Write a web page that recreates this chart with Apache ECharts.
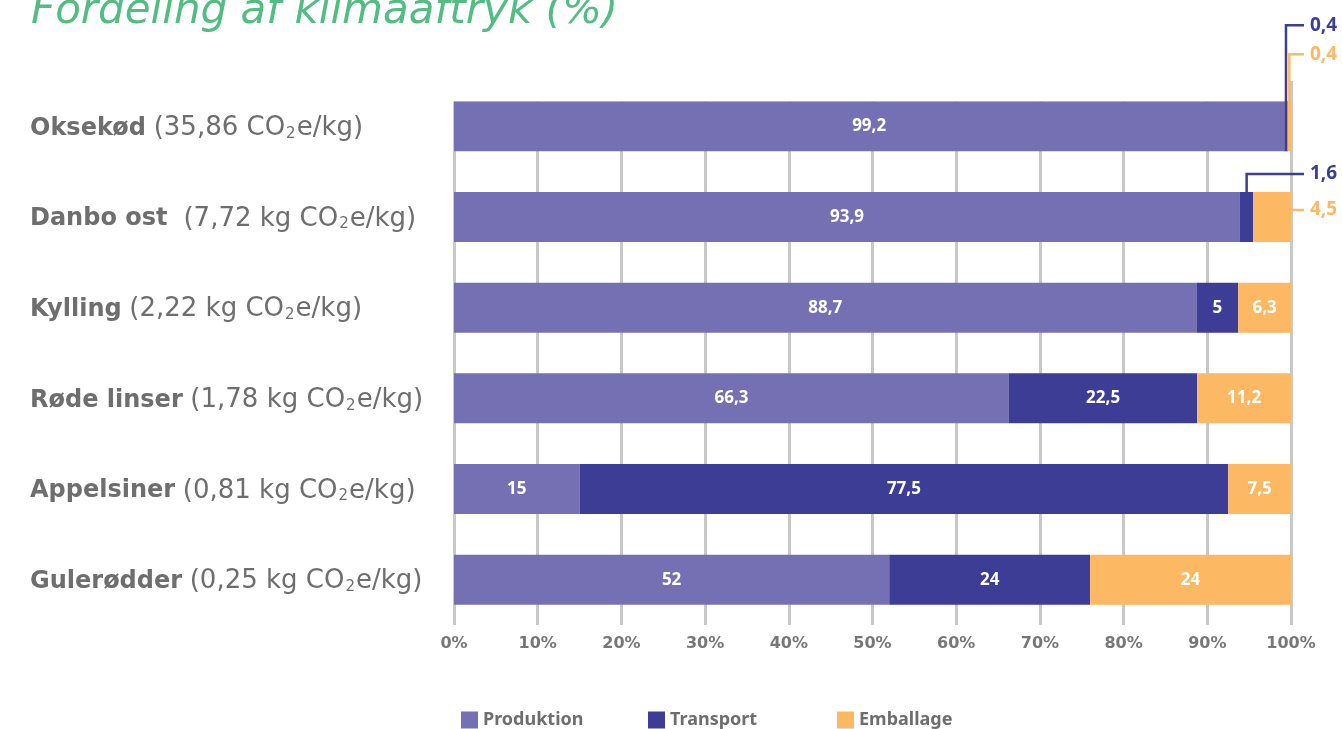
<!DOCTYPE html>
<html><head><meta charset="utf-8">
<script src="https://cdn.jsdelivr.net/npm/echarts@6/dist/echarts.min.js"></script>
<style>html,body{margin:0;padding:0;background:#fff}#c{width:1342px;height:729px}</style>
</head><body><div id="c"></div>
<script>
const categoryNames = ['Oksekød', 'Danbo ost ', 'Kylling', 'Røde linser', 'Appelsiner', 'Gulerødder'];
const categoryFootprints = ['(35,86 CO₂e/kg)', '(7,72 kg CO₂e/kg)', '(2,22 kg CO₂e/kg)', '(1,78 kg CO₂e/kg)', '(0,81 kg CO₂e/kg)', '(0,25 kg CO₂e/kg)'];
const seriesNames = ['Produktion', 'Transport', 'Emballage'];
const produktion = [99.2, 93.9, 88.7, 66.3, 15, 52];
const transport = [0.4, 1.6, 5, 22.5, 77.5, 24];
const emballage = [0.4, 4.5, 6.3, 11.2, 7.5, 24];
const xTickValues = [0, 10, 20, 30, 40, 50, 60, 70, 80, 90, 100];

const colors = ['#7570b3', '#3d3d96', '#fdb863'];
const gray = '#6e6e6e';
const FONT = 'Noto Sans';
const WIDE = 'DejaVu Sans';
const BAR_W = 50;
const INSIDE_MIN = 5;
const fmt = v => String(v).replace('.', ',');

const allSeries = [produktion, transport, emballage];
const categories = categoryNames.map((n, i) => n + '|' + categoryFootprints[i]);
const legendLefts = [456, 643, 832];

// render "CO₂" with a real small subscript token
const richFootprint = t => {
  const parts = t.split('₂');
  return '{n|' + parts[0] + '}{s|2}{n|' + parts[1] + '}';
};

const chart = echarts.init(document.getElementById('c'), null, {renderer: 'canvas'});
const option = {
  backgroundColor: '#fff',
  animation: false,
  title: {
    text: 'Fordeling af klimaaftryk (%)',
    left: 26, top: -14,
    textStyle: {fontFamily: WIDE, fontStyle: 'italic', fontWeight: 200, fontSize: 42, color: '#52bd82'}
  },
  legend: seriesNames.map((n, i) => ({
    left: legendLefts[i], top: 706,
    itemWidth: 17, itemHeight: 17, itemGap: 0,
    icon: 'rect',
    data: [n],
    textStyle: {fontFamily: FONT, fontWeight: 'bold', fontSize: 18, color: gray}
  })),
  grid: {left: 454, right: 51, top: 81, bottom: 104, containLabel: false},
  xAxis: {
    type: 'value', min: 0, max: 100, interval: 10,
    axisLine: {show: false}, axisTick: {show: false},
    splitLine: {show: true, lineStyle: {color: '#c8c8c8', width: 3}},
    axisLabel: {
      margin: 11,
      formatter: v => xTickValues.includes(v) ? v + '%' : '',
      fontFamily: WIDE, fontWeight: 'bold', fontSize: 16, color: '#777'
    }
  },
  yAxis: {
    type: 'category', inverse: true, data: categories,
    axisLine: {show: false}, axisTick: {show: false},
    axisLabel: {
      align: 'left', margin: 424,
      formatter: v => { const p = v.split('|'); return '{b|' + p[0] + '}{sp| }' + richFootprint(p[1]); },
      rich: {
        b: {fontFamily: WIDE, fontWeight: 'bold', fontSize: 24, color: gray, padding: [4, 0, 0, 0]},
        sp: {fontFamily: WIDE, fontSize: 24, color: gray, padding: [4, 0, 0, 0]},
        n: {fontFamily: WIDE, fontWeight: 'normal', fontSize: 26, color: gray, padding: [4, 0, 0, 0]},
        s: {fontFamily: WIDE, fontWeight: 'normal', fontSize: 15, color: gray, verticalAlign: 'bottom', padding: [0, 1, 0, 1]}
      }
    }
  },
  series: allSeries.map((arr, s) => ({
    name: seriesNames[s], type: 'bar', stack: 'total', barWidth: BAR_W,
    itemStyle: {color: colors[s]},
    label: {
      show: true, position: 'inside', color: '#fff',
      fontFamily: FONT, fontWeight: 'bold', fontSize: 17,
      formatter: p => p.value >= INSIDE_MIN ? fmt(p.value) : ''
    },
    data: arr.slice()
  }))
};
chart.setOption(option);

// leader-line annotations for small segments (offsets relative to bar top)
const annotations = [
  {cat: 0, s: 1, dy: -76},
  {cat: 0, s: 2, dy: -47},
  {cat: 1, s: 1, dy: -18},
  {cat: 1, s: 2, dy: 18}
];
const lineEndX = 1304, textX = 1310;
const elems = [];
// mask split lines above the first bar
const c0 = chart.convertToPixel({gridIndex: 0}, [0, 0]);
const c1 = chart.convertToPixel({gridIndex: 0}, [0, 1]);
const band = c1[1] - c0[1];
const gridTop = c0[1] - band / 2;
const firstBarTop = c0[1] - BAR_W / 2;
elems.push({
  type: 'rect', z: 10,
  shape: {x: 440, y: gridTop - 3, width: 845, height: firstBarTop - gridTop + 3},
  style: {fill: '#fff'}
});
annotations.forEach(a => {
  let start = 0;
  for (let k = 0; k < a.s; k++) start += allSeries[k][a.cat];
  const v = allSeries[a.s][a.cat];
  const mid = chart.convertToPixel({gridIndex: 0}, [start + v / 2, a.cat]);
  const barTop = mid[1] - BAR_W / 2;
  const ly = barTop + a.dy;
  elems.push({
    type: 'polyline', z: 100,
    shape: {points: [[mid[0], barTop + 1], [mid[0], ly], [lineEndX, ly]]},
    style: {stroke: colors[a.s], lineWidth: 2.5, fill: null}
  });
  elems.push({
    type: 'text', z: 100, x: textX, y: ly,
    style: {text: fmt(v), fill: colors[a.s], font: 'bold 19px "' + FONT + '"', textVerticalAlign: 'middle', textAlign: 'left'}
  });
});
chart.setOption({graphic: elems});
</script></body></html>
